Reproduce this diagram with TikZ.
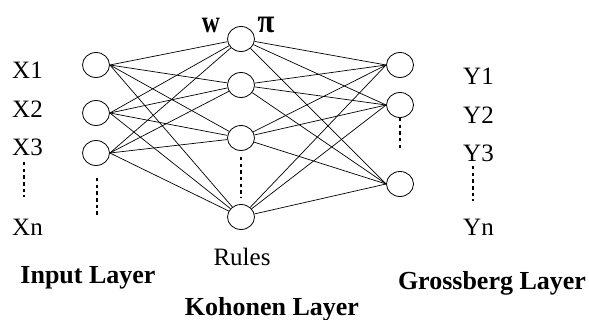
\documentclass[tikz,border=0pt]{standalone}
\usepackage{fontspec}
\setmainfont{Liberation Serif}
\usetikzlibrary{shapes.geometric}
\begin{document}
\begin{tikzpicture}[x=1pt,y=-1pt,
  neuron/.style={draw,ellipse,line width=0.8pt,minimum width=27pt,minimum height=25pt,inner sep=0pt},
  wire/.style={line width=0.7pt},
  ellipsis/.style={line width=2.8pt,dash pattern=on 3.5pt off 3.2pt},
  lbl/.style={font=\fontsize{25}{30}\selectfont,inner sep=0pt,anchor=west},
  title/.style={font=\fontsize{26}{31}\selectfont\bfseries,inner sep=0pt}]
\useasboundingbox (0,0) rectangle (589,320);

% input layer
\node[neuron] (i1) at (96,65) {};
\node[neuron] (i2) at (96,113) {};
\node[neuron] (i3) at (96,153) {};
% Kohonen layer
\node[neuron] (k1) at (241,39) {};
\node[neuron] (k2) at (241,85) {};
\node[neuron] (k3) at (241,138) {};
\node[neuron] (k4) at (241,217) {};
% Grossberg layer
\node[neuron] (g1) at (400,65) {};
\node[neuron] (g2) at (400,105) {};
\node[neuron] (g3) at (400,184) {};

% full connections
\foreach \i in {1,2,3}
  \foreach \k in {1,2,3,4}
    \draw[wire] (i\i.east) -- (k\k);
\foreach \k in {1,2,3,4}
  \foreach \g in {1,2,3}
    \draw[wire] (k\k) -- (g\g.west);

% omitted units
\coordinate (ia) at (97,178); \coordinate (ib) at (97,218);
\draw[ellipsis] (ia) -- (ib);
\draw[ellipsis] (k3.south) ++(0,6) coordinate (ka) (k4.north) ++(0,-6) coordinate (kb);
\draw[ellipsis] (ka) -- (kb);
\draw[ellipsis] (g2.south) -- ++(0,33) coordinate (gb);

% input labels
\node[lbl] (x1) at (12,70) {X1};
\node[lbl] (x2) at (12,109) {X2};
\node[lbl] (x3) at (12,147) {X3};
\node[lbl] (xn) at (12,227) {Xn};
\coordinate (xa) at (24,162); \coordinate (xb) at (24,197);
\draw[ellipsis,line width=2.4pt] (xa) -- (xb);

% output labels
\node[lbl] (y1) at (463,76) {Y1};
\node[lbl] (y2) at (463,115) {Y2};
\node[lbl] (y3) at (463,153) {Y3};
\node[lbl] (yn) at (463,227) {Yn};
\coordinate (ya) at (473,166); \coordinate (yb) at (473,201);
\draw[ellipsis,line width=2.4pt] (ya) -- (yb);

% weights
\node[inner sep=0pt] (w) at (211,25) {\scalebox{1}[1.25]{\fontsize{25}{30}\selectfont\bfseries w}};
\node[inner sep=0pt] (pi) at (266,25) {\scalebox{1.1}[1.2]{\fontsize{28}{32}\selectfont\bfseries π}};

% captions
\node[inner sep=0pt,font=\fontsize{25}{30}\selectfont] (rules) at (242,257) {Rules};
\node[title] (tin) at (88,278) {Input Layer};
\node[title] (tko) at (272,309) {Kohonen Layer};
\node[title] (tgr) at (492,283) {Grossberg Layer};
\end{tikzpicture}
\end{document}
